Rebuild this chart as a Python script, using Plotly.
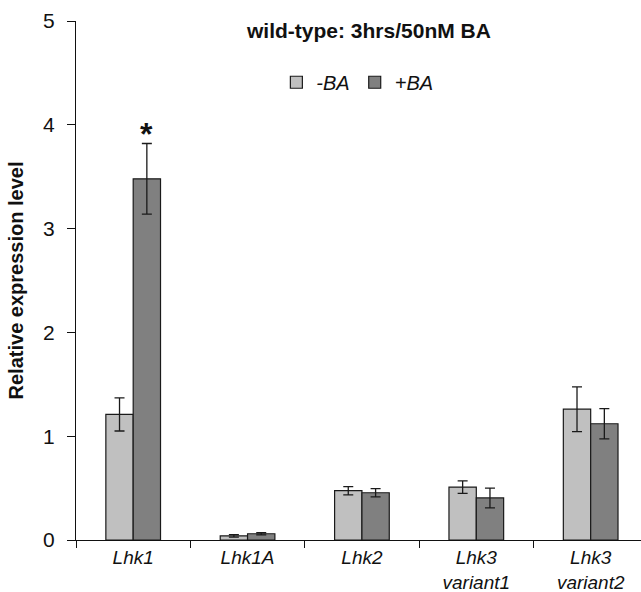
import plotly.graph_objects as go

genes = ["<i>Lhk1</i>", "<i>Lhk1A</i>", "<i>Lhk2</i>", "<i>Lhk3<br>variant1</i>", "<i>Lhk3<br>variant2</i>"]
minus_ba = [1.21, 0.04, 0.475, 0.51, 1.26]
minus_ba_err = [0.16, 0.012, 0.04, 0.06, 0.215]
plus_ba = [3.48, 0.06, 0.455, 0.405, 1.12]
plus_ba_err = [0.34, 0.01, 0.04, 0.095, 0.145]

xpos = list(range(len(genes)))
font_family = "Liberation Sans, Arial, sans-serif"

fig = go.Figure()
fig.add_trace(go.Bar(
    x=xpos, y=minus_ba, name="<i>-BA</i>",
    marker=dict(color="#c0c0c0", line=dict(color="#1a1a1a", width=1.2)),
    error_y=dict(type="data", array=minus_ba_err, visible=True,
                 color="#1a1a1a", thickness=1.3, width=5),
))
fig.add_trace(go.Bar(
    x=xpos, y=plus_ba, name="<i>+BA</i>",
    marker=dict(color="#808080", line=dict(color="#1a1a1a", width=1.2)),
    error_y=dict(type="data", array=plus_ba_err, visible=True,
                 color="#1a1a1a", thickness=1.3, width=5),
))

# significance mark above the induced Lhk1 bar
fig.add_annotation(x=0.1195, y=plus_ba[0] + plus_ba_err[0], xref="x", yref="y",
                   text="<b>*</b>", showarrow=False, yanchor="bottom", yshift=-11,
                   font=dict(family=font_family, size=32, color="#111111"))

# chart heading inside the plot area
fig.add_annotation(x=0.518, y=0.981, xref="paper", yref="paper", text="<b>wild-type: 3hrs/50nM BA</b>",
                   showarrow=False, xanchor="center", yanchor="middle",
                   font=dict(family=font_family, size=21, color="#111111"))

fig.update_layout(
    width=641, height=592,
    margin=dict(l=76, r=0, t=21, b=52),
    plot_bgcolor="white", paper_bgcolor="white",
    barmode="group", bargap=0.522, bargroupgap=0,
    showlegend=True,
    legend=dict(orientation="h", x=0.498, y=0.882, xanchor="center", yanchor="middle",
                font=dict(family=font_family, size=20, color="#111111"),
                itemwidth=30, traceorder="normal", bgcolor="rgba(0,0,0,0)"),
    font=dict(family=font_family, color="#111111"),
)

fig.update_xaxes(
    range=[-0.5, 4.44], tickvals=xpos, ticktext=genes, ticks="",
    showline=True, linecolor="#111111", linewidth=1.2,
    tickfont=dict(family=font_family, size=19, color="#111111"),
    ticklabelstandoff=0, automargin=False,
    minor=dict(tickvals=[-0.5, 0.5, 1.5, 2.5, 3.5], ticks="outside", ticklen=7,
               tickcolor="#111111", tickwidth=1.2),
    showgrid=False, zeroline=False,
)
fig.update_yaxes(
    range=[0, 5], tickvals=[0, 1, 2, 3, 4, 5], ticks="outside", ticklen=8,
    tickcolor="#111111", tickwidth=1.2,
    showline=True, linecolor="#111111", linewidth=1.2,
    tickfont=dict(family=font_family, size=21, color="#111111"),
    ticklabelstandoff=8, automargin=False,
    title=dict(text="<b>Relative expression level</b>", standoff=14,
               font=dict(family=font_family, size=20, color="#111111")),
    showgrid=False, zeroline=False,
)

fig.write_html("out.html")
